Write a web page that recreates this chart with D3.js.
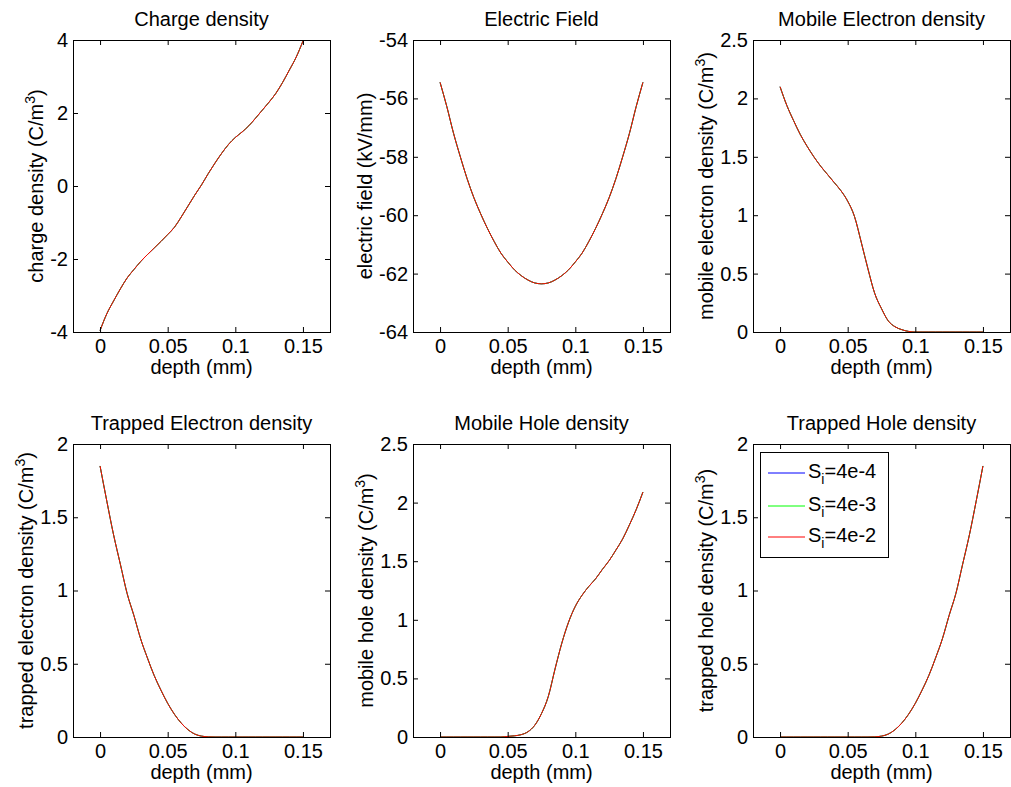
<!DOCTYPE html>
<html><head><meta charset="utf-8">
<script src="https://cdn.jsdelivr.net/npm/d3@7"></script>
<style>
body{margin:0;background:#fff;}
svg text{font-family:"Liberation Sans",Arial,sans-serif;fill:#000;}
</style></head>
<body><svg id="c" width="1011" height="787"></svg>
<script>
const depth = [0,0.005,0.01,0.015,0.02,0.025,0.03,0.035,0.04,0.045,0.05,0.055,0.06,0.065,0.07,0.075,0.08,0.085,0.09,0.095,0.1,0.105,0.11,0.115,0.12,0.125,0.13,0.135,0.14,0.145,0.15];
const chargeDensity = [-3.96,-3.5,-3.15,-2.82,-2.52,-2.29,-2.07,-1.88,-1.7,-1.52,-1.33,-1.13,-0.85,-0.55,-0.25,0.03,0.34,0.63,0.9,1.14,1.33,1.48,1.65,1.86,2.08,2.3,2.54,2.84,3.18,3.53,3.97];
const electricField = [-55.45,-56.28,-57.2,-58.0,-58.75,-59.4,-59.95,-60.45,-60.9,-61.3,-61.6,-61.87,-62.07,-62.22,-62.32,-62.35,-62.32,-62.22,-62.07,-61.87,-61.6,-61.3,-60.9,-60.45,-59.95,-59.4,-58.75,-58.0,-57.2,-56.28,-55.45];
const mobileElectron = [2.1,1.94,1.81,1.69,1.59,1.5,1.42,1.35,1.28,1.21,1.12,0.99,0.77,0.54,0.33,0.2,0.095,0.045,0.02,0.005,0,0,0,0,0,0,0,0,0,0,0];
const trappedElectron = [1.85,1.61,1.38,1.18,0.98,0.83,0.67,0.54,0.42,0.32,0.23,0.155,0.095,0.05,0.02,0.006,0.001,0,0,0,0,0,0,0,0,0,0,0,0,0,0];
const mobileHole = [0,0,0,0,0,0,0,0,0,0,0.005,0.01,0.02,0.045,0.1,0.2,0.345,0.58,0.8,0.98,1.115,1.21,1.285,1.35,1.43,1.505,1.595,1.69,1.81,1.94,2.09];
const trappedHole = [0,0,0,0,0,0,0,0,0,0,0,0,0,0,0.001,0.006,0.02,0.05,0.095,0.155,0.23,0.32,0.42,0.54,0.67,0.83,0.98,1.18,1.38,1.61,1.85];

const seriesNames = ["4e-4","4e-3","4e-2"];
const seriesColors = ["#0000ff","#00ff00","#ff0000"];
const xTicks = [0,0.05,0.1,0.15];
const xTickLabels = ["0","0.05","0.1","0.15"];

const panels = [
  {title:"Charge density", ylabel:"charge density (C/m", sup:"3", data:chargeDensity, yDomain:[-4,4], yTicks:[-4,-2,0,2,4], yTickLabels:["-4","-2","0","2","4"]},
  {title:"Electric Field", ylabel:"electric field (kV/mm)", sup:null, data:electricField, yDomain:[-64,-54], yTicks:[-64,-62,-60,-58,-56,-54], yTickLabels:["-64","-62","-60","-58","-56","-54"]},
  {title:"Mobile Electron density", ylabel:"mobile electron density (C/m", sup:"3", data:mobileElectron, yDomain:[0,2.5], yTicks:[0,0.5,1,1.5,2,2.5], yTickLabels:["0","0.5","1","1.5","2","2.5"]},
  {title:"Trapped Electron density", ylabel:"trapped electron density (C/m", sup:"3", data:trappedElectron, yDomain:[0,2], yTicks:[0,0.5,1,1.5,2], yTickLabels:["0","0.5","1","1.5","2"]},
  {title:"Mobile Hole density", ylabel:"mobile hole density (C/m", sup:"3", data:mobileHole, yDomain:[0,2.5], yTicks:[0,0.5,1,1.5,2,2.5], yTickLabels:["0","0.5","1","1.5","2","2.5"]},
  {title:"Trapped Hole density", ylabel:"trapped hole density (C/m", sup:"3", data:trappedHole, yDomain:[0,2], yTicks:[0,0.5,1,1.5,2], yTickLabels:["0","0.5","1","1.5","2"], legend:true}
];

const colLeft = [73,413,753];
const rowTop = [40,444];
const W = 257, Hs = [292,293];
const FS = 20;
const svg = d3.select("#c");

panels.forEach((p,i)=>{
  const col = i%3, row = Math.floor(i/3);
  const L = colLeft[col], T = rowTop[row], H = Hs[row];
  const g = svg.append("g").attr("transform",`translate(${L},${T})`);
  const x = d3.scaleLinear().domain([-0.02,0.17]).range([0,W]);
  const y = d3.scaleLinear().domain(p.yDomain).range([H,0]);

  const line = d3.line().x((d,k)=>x(depth[k])).y(d=>y(d)).curve(d3.curveMonotoneX);
  seriesColors.forEach((c,s)=>{
    g.append("path").datum(p.data).attr("d",line).attr("fill","none").attr("stroke",c).attr("stroke-width",1);
  });

  const tk = 5;
  const axB = d3.axisBottom(x).tickValues(xTicks).tickFormat((d,k)=>xTickLabels[k]).tickSizeInner(-tk).tickSizeOuter(0);
  const axT = d3.axisTop(x).tickValues(xTicks).tickFormat("").tickSizeInner(-tk).tickSizeOuter(0);
  const axL = d3.axisLeft(y).tickValues(p.yTicks).tickFormat((d,k)=>p.yTickLabels[k]).tickSizeInner(-tk).tickSizeOuter(0).tickPadding(5);
  const axR = d3.axisRight(y).tickValues(p.yTicks).tickFormat("").tickSizeInner(-tk).tickSizeOuter(0);
  const gb = g.append("g").attr("transform",`translate(0,${H})`).call(axB);
  g.append("g").call(axT);
  const gl = g.append("g").call(axL);
  g.append("g").attr("transform",`translate(${W},0)`).call(axR);
  g.selectAll(".domain").remove();
  g.selectAll(".tick line").attr("stroke","#000");
  g.selectAll(".tick text").attr("font-size",FS).attr("font-family","Liberation Sans, Arial, sans-serif").attr("fill","#000");
  gb.selectAll(".tick text").attr("y",21).attr("dy",0);
  g.append("rect").attr("x",0.5).attr("y",0.5).attr("width",W).attr("height",H)
    .attr("fill","none").attr("stroke","#000").attr("stroke-width",1);

  let maxW = 0;
  gl.selectAll(".tick text").each(function(){maxW=Math.max(maxW,this.getComputedTextLength());});

  g.append("text").attr("x",W/2).attr("y",-14).attr("text-anchor","middle").attr("font-size",FS).text(p.title);
  g.append("text").attr("x",W/2).attr("y",H+42).attr("text-anchor","middle").attr("font-size",FS).text("depth (mm)");
  const lx = -(5+maxW+14);
  const yl = g.append("text").attr("transform",`translate(${lx},${H/2}) rotate(-90)`)
    .attr("text-anchor","middle").attr("dy","0.35em").attr("font-size",FS);
  yl.append("tspan").text(p.ylabel);
  if(p.sup){
    yl.append("tspan").attr("font-size",14).attr("dy",-8).text(p.sup);
    yl.append("tspan").attr("dy",8).text(")");
  }

  if(p.legend){
    const lg = g.append("g").attr("transform","translate(7,8)");
    lg.append("rect").attr("x",0.5).attr("y",0.5).attr("width",128).attr("height",105).attr("fill","#fff").attr("stroke","#000");
    const rowsY = [21,54,85];
    seriesNames.forEach((n,s)=>{
      lg.append("line").attr("x1",8).attr("x2",45).attr("y1",rowsY[s]).attr("y2",rowsY[s]).attr("stroke",seriesColors[s]).attr("stroke-width",1);
      const t = lg.append("text").attr("x",48).attr("y",rowsY[s]+5).attr("font-size",FS);
      t.append("tspan").text("S");
      t.append("tspan").attr("font-size",14).attr("dy",6).text("i");
      t.append("tspan").attr("dy",-6).text("=" + n);
    });
  }
});
</script></body></html>
